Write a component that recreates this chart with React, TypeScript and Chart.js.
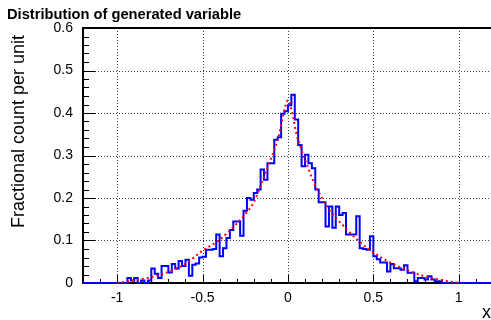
import React, { useEffect, useRef } from "react";
import { Chart, registerables } from "chart.js";

Chart.register(...registerables);

// Histogram: 120 bins of width 0.02 starting at -1.2
const binLow = -1.2;
const binWidth = 0.02;
const histValues = [
  0, 0, 0, 0, 0, 0, 0, 0, 0, 0,
  0, 0, 0, 0.012, 0.006, 0.012, 0, 0.006, 0, 0.006,
  0.034, 0.022, 0.012, 0.04, 0.04, 0.025, 0.045, 0.034, 0.052, 0.04,
  0.055, 0.017, 0.043, 0.046, 0.06, 0.062, 0.078, 0.078, 0.08, 0.114,
  0.063, 0.082, 0.106, 0.125, 0.145, 0.145, 0.111, 0.17, 0.2, 0.196,
  0.212, 0.22, 0.267, 0.243, 0.282, 0.282, 0.337, 0.343, 0.398, 0.404,
  0.418, 0.443, 0.385, 0.325, 0.275, 0.302, 0.282, 0.27, 0.22, 0.19,
  0.19, 0.133, 0.18, 0.13, 0.18, 0.16, 0.165, 0.114, 0.114, 0.114,
  0.157, 0.082, 0.08, 0.078, 0.11, 0.063, 0.056, 0.048, 0.048, 0.027,
  0.045, 0.035, 0.035, 0.031, 0.042, 0.024, 0.024, 0.004, 0.012, 0.012,
  0.008, 0.016, 0.008, 0.004, 0.004, 0, 0, 0, 0, 0,
  0, 0, 0, 0, 0, 0, 0, 0, 0, 0,
];

// Fitted curve (red dashed)
const fitX = [
  -1.0, -0.9, -0.8, -0.7, -0.6, -0.5, -0.4, -0.3, -0.25, -0.2, -0.15, -0.1,
  -0.075, -0.05, -0.025, 0, 0.025, 0.05, 0.075, 0.1, 0.15, 0.2, 0.25, 0.3,
  0.4, 0.5, 0.6, 0.7, 0.8, 0.9, 1.0,
];
const fitY = [
  0.0, 0.006, 0.014, 0.026, 0.045, 0.076, 0.102, 0.14, 0.162, 0.19, 0.24, 0.292,
  0.318, 0.352, 0.4, 0.43, 0.4, 0.35, 0.318, 0.29, 0.238, 0.2, 0.168, 0.145,
  0.104, 0.072, 0.048, 0.03, 0.016, 0.007, 0.0,
];

const xTickValues = [-1, -0.5, 0, 0.5, 1];
const yTickValues = [0, 0.1, 0.2, 0.3, 0.4, 0.5, 0.6];
const titleText = "Distribution of generated variable";
const yTitleText = "Fractional count per unit";
const xTitleText = "x";

const FONT = '"Liberation Sans", Arial, Helvetica, sans-serif';

export default function App() {
  const ref = useRef<HTMLCanvasElement>(null);

  useEffect(() => {
    document.body.style.margin = "0";
    const canvas = ref.current;
    if (!canvas) return;

    const histData = histValues.map((v, i) => ({ x: binLow + i * binWidth, y: v }));
    histData.push({
      x: binLow + histValues.length * binWidth,
      y: histValues[histValues.length - 1],
    });
    const fitData = fitX.map((x, i) => ({ x, y: fitY[i] }));

    const framePlugin = {
      id: "rootFrame",
      beforeDatasetsDraw(chart: any) {
        const { ctx, chartArea: a, scales } = chart;
        const xs = scales.x;
        const ys = scales.y;
        ctx.save();
        // dotted grid
        ctx.strokeStyle = "rgba(0,0,0,0.75)";
        ctx.lineWidth = 1;
        ctx.setLineDash([1, 2]);
        ctx.beginPath();
        for (const v of xTickValues) {
          const px = Math.round(xs.getPixelForValue(v)) + 0.5;
          ctx.moveTo(px, a.top);
          ctx.lineTo(px, a.bottom);
        }
        for (const v of yTickValues) {
          if (v <= 0 || v >= 0.6) continue;
          const py = Math.round(ys.getPixelForValue(v)) + 0.5;
          ctx.moveTo(a.left, py);
          ctx.lineTo(a.right, py);
        }
        ctx.stroke();
        ctx.setLineDash([]);

        // inside ticks
        ctx.strokeStyle = "#000";
        ctx.lineWidth = 1;
        ctx.beginPath();
        for (let k = 0; k <= 30; k++) {
          const py = Math.round(ys.getPixelForValue(k * 0.02)) + 0.5;
          const len = k % 5 === 0 ? 12 : 6;
          ctx.moveTo(a.left, py);
          ctx.lineTo(a.left + len, py);
        }
        for (let k = -12; k <= 12; k++) {
          const px = Math.round(xs.getPixelForValue(k * 0.1)) + 0.5;
          const len = k % 5 === 0 ? 8 : 4;
          ctx.moveTo(px, a.bottom);
          ctx.lineTo(px, a.bottom - len);
        }
        ctx.stroke();

        // frame
        ctx.lineWidth = 2;
        ctx.beginPath();
        ctx.moveTo(a.left, a.bottom);
        ctx.lineTo(a.left, a.top);
        ctx.lineTo(a.right + 4, a.top);
        ctx.moveTo(a.left - 1, a.bottom);
        ctx.lineTo(a.right + 4, a.bottom);
        ctx.stroke();
        ctx.restore();
      },
      afterDraw(chart: any) {
        const { ctx } = chart;
        ctx.save();
        ctx.fillStyle = "#000";
        // title
        ctx.font = `bold 14.7px ${FONT}`;
        ctx.textAlign = "left";
        ctx.textBaseline = "alphabetic";
        ctx.fillText(titleText, 7, 19);
        // x title
        ctx.font = `18px ${FONT}`;
        ctx.textAlign = "right";
        ctx.fillText(xTitleText, 491, 318);
        // y title
        ctx.translate(24, 35);
        ctx.rotate(-Math.PI / 2);
        ctx.textAlign = "right";
        ctx.fillText(yTitleText, 0, 0);
        ctx.restore();
      },
    };

    const fmt = (v: any) => String(Number(v));

    const chart = new Chart(canvas, {
      type: "line",
      data: {
        datasets: [
          {
            label: "fit",
            data: fitData,
            borderColor: "#ff0000",
            borderWidth: 2,
            borderDash: [2, 3],
            pointRadius: 0,
            fill: false,
            cubicInterpolationMode: "monotone",
          },
          {
            label: "hist",
            data: histData,
            borderColor: "#0000ff",
            borderWidth: 2,
            stepped: true,
            pointRadius: 0,
            fill: false,
            clip: 4,
          } as any,
        ],
      },
      options: {
        animation: false,
        responsive: false,
        devicePixelRatio: 1,
        layout: { padding: { top: 28, left: 0, right: 0, bottom: 0 } },
        plugins: {
          legend: { display: false },
          tooltip: { enabled: false },
          title: { display: false },
        },
        scales: {
          x: {
            type: "linear",
            min: -1.2,
            max: 1.189,
            grid: { display: false, drawTicks: false },
            border: { display: false },
            ticks: {
              color: "#000",
              font: { family: FONT, size: 14 },
              padding: 7,
              maxRotation: 0,
              autoSkip: false,
              callback: fmt,
            },
            afterBuildTicks: (s: any) => {
              s.ticks = xTickValues.map((v) => ({ value: v }));
            },
            afterFit: (s: any) => {
              s.height = 37;
            },
          },
          y: {
            type: "linear",
            min: 0,
            max: 0.6,
            grid: { display: false, drawTicks: false },
            border: { display: false },
            ticks: {
              color: "#000",
              font: { family: FONT, size: 14 },
              padding: 10,
              callback: fmt,
            },
            afterBuildTicks: (s: any) => {
              s.ticks = yTickValues.map((v) => ({ value: v }));
            },
            afterFit: (s: any) => {
              s.width = 83;
            },
          },
        },
      },
      plugins: [framePlugin],
    });

    return () => chart.destroy();
  }, []);

  return (
    <div style={{ width: 491, height: 320 }}>
      <canvas ref={ref} width={491} height={320} style={{ display: "block" }} />
    </div>
  );
}
